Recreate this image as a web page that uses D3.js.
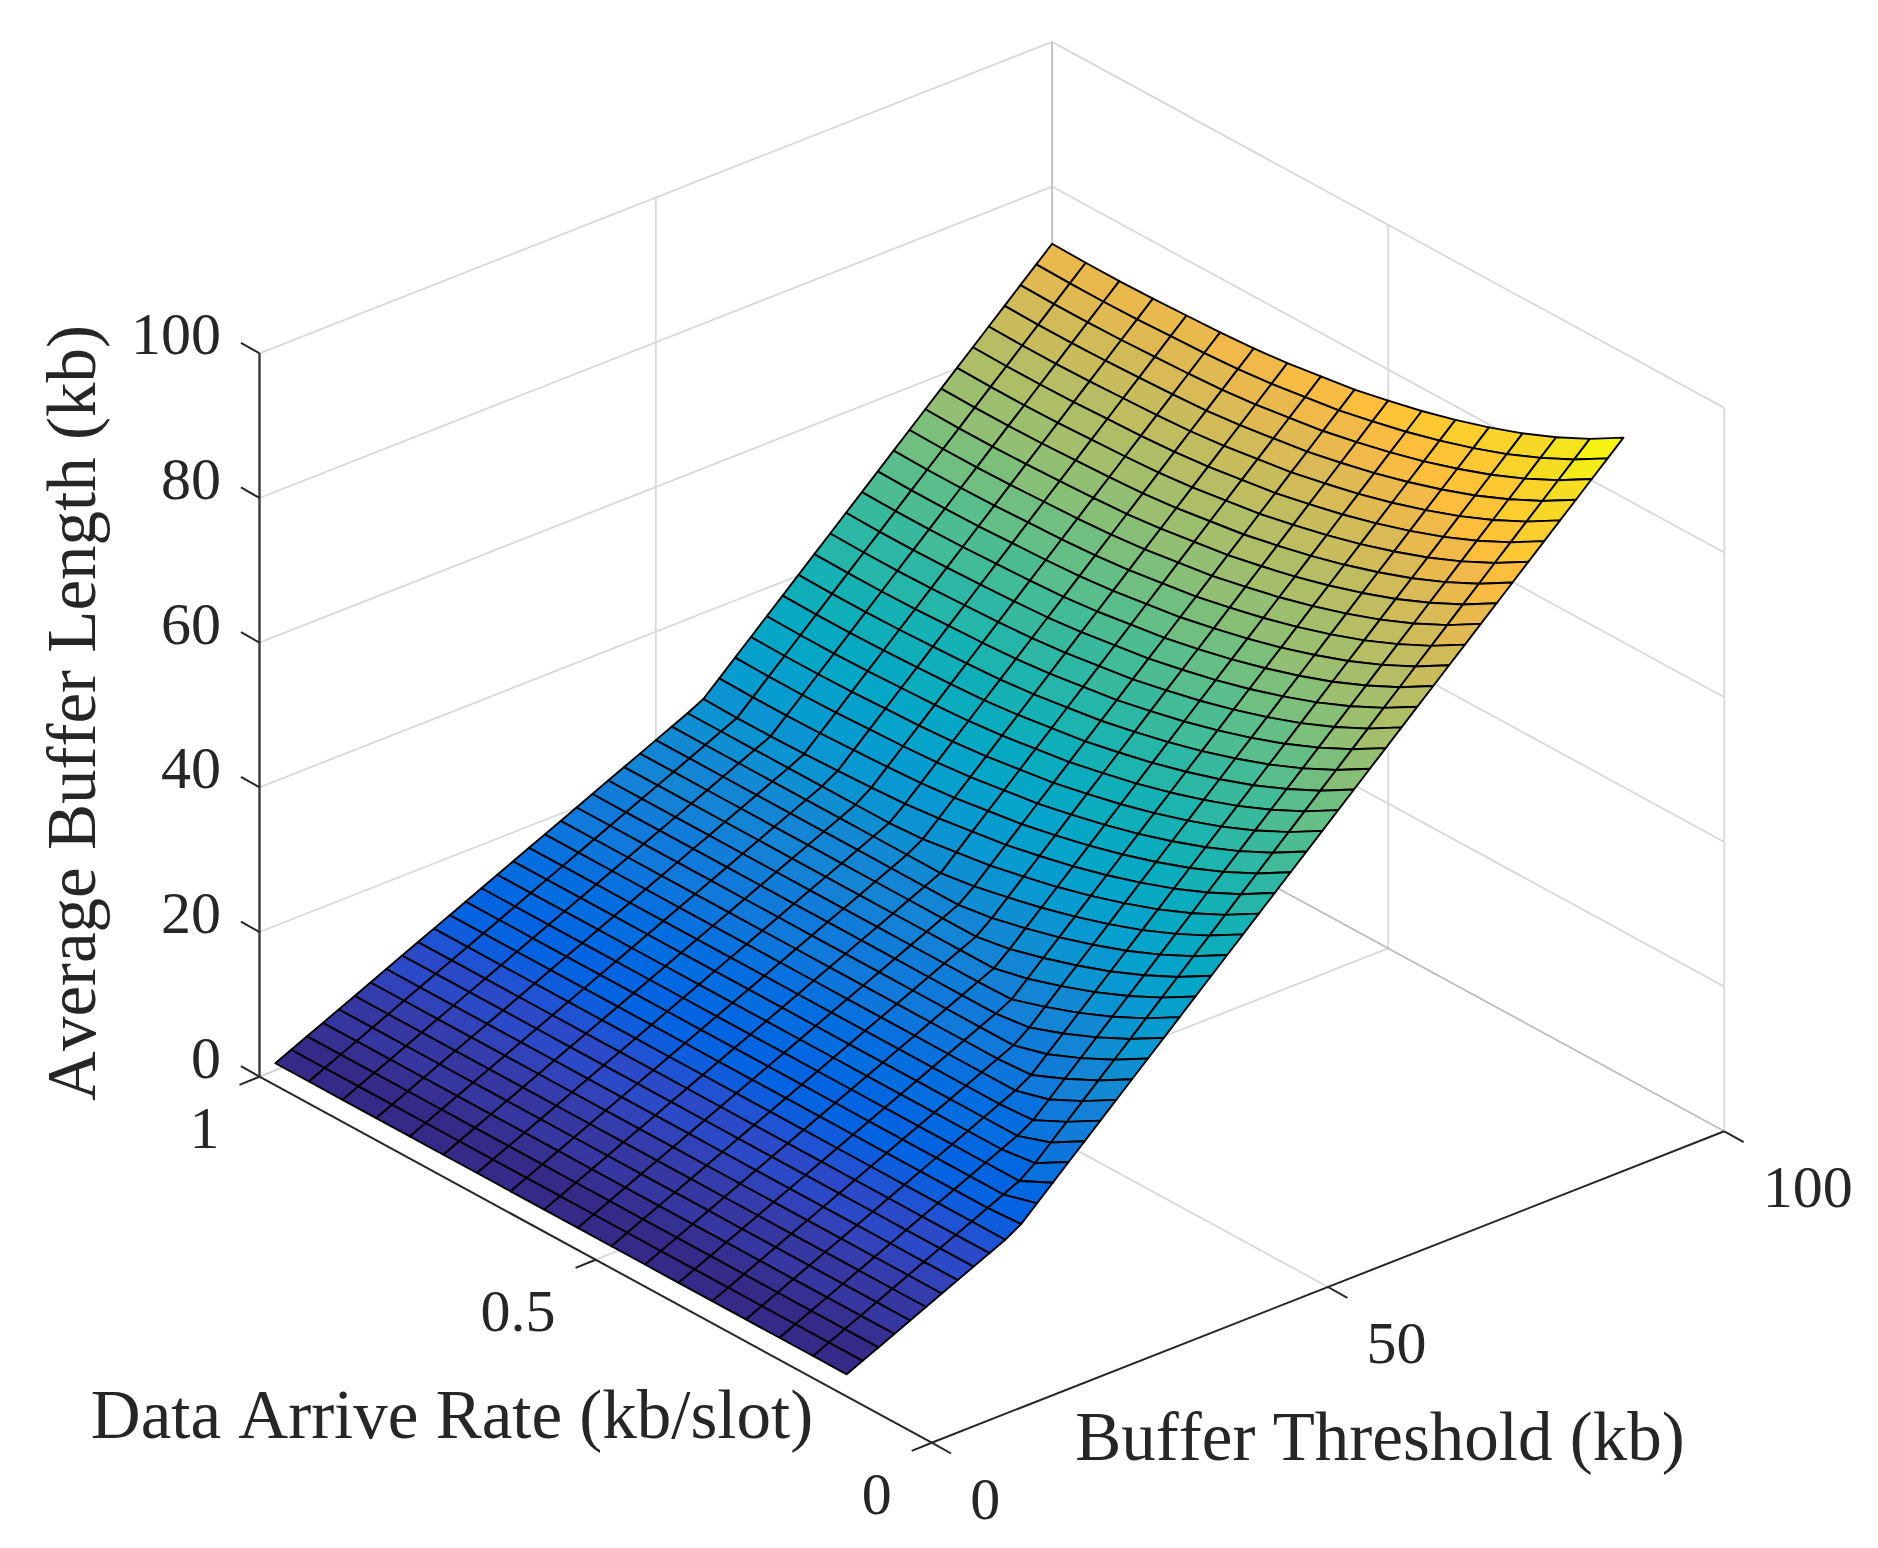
<!DOCTYPE html>
<html><head><meta charset="utf-8">
<script src="https://cdn.jsdelivr.net/npm/d3@7/dist/d3.min.js"></script>
<style>html,body{margin:0;padding:0;background:#fff}svg{display:block}text{font-family:"Liberation Serif","Times New Roman",serif;fill:#262626;font-kerning:none}</style>
</head><body><svg id="c" width="1878" height="1548"></svg>
<script>
const thresholds=[2,4,6,8,10,12,14,16,18,20,22,24,26,28,30,32,34,36,38,40,42,44,46,48,50,52,54,56,58,60,62,64,66,68,70,72,74,76,78,80,82,84,86,88,90,92,94,96,98,100];
const rates=[0.15,0.2,0.25,0.3,0.35,0.4,0.45,0.5,0.55,0.6,0.65,0.7,0.75,0.8,0.85,0.9,0.95,1];
const bufferLength=[
[1,2,3,4,5,6,7,8,9,10,11,12.3,14.3,16.3,18.3,20.3,22.3,24.3,26.3,28.3,30.3,32.3,34.3,36.3,38.3,40.3,42.3,44.3,46.3,48.3,50.3,52.3,54.3,56.3,58.3,60.3,62.3,64.3,66.3,68.3,70.3,72.3,74.3,76.3,78.3,80.3,82.3,84.3,86.3,88.3],
[1,2,3,4,5,6,7,8,9,10,11,12,13,14,15.6,17.6,19.6,21.6,23.6,25.6,27.6,29.6,31.6,33.6,35.6,37.6,39.6,41.6,43.6,45.6,47.6,49.6,51.6,53.6,55.6,57.6,59.6,61.6,63.6,65.6,67.6,69.6,71.6,73.6,75.6,77.6,79.6,81.6,83.6,85.6],
[1,2,3,4,5,6,7,8,9,10,11,12,13,14,15,16,17.3,19.3,21.3,23.3,25.3,27.3,29.3,31.3,33.3,35.3,37.3,39.3,41.3,43.3,45.3,47.3,49.3,51.3,53.3,55.3,57.3,59.3,61.3,63.3,65.3,67.3,69.3,71.3,73.3,75.3,77.3,79.3,81.3,83.3],
[1,2,3,4,5,6,7,8,9,10,11,12,13,14,15,16,17,18,19.3,21.3,23.3,25.3,27.3,29.3,31.3,33.3,35.3,37.3,39.3,41.3,43.3,45.3,47.3,49.3,51.3,53.3,55.3,57.3,59.3,61.3,63.3,65.3,67.3,69.3,71.3,73.3,75.3,77.3,79.3,81.3],
[1,2,3,4,5,6,7,8,9,10,11,12,13,14,15,16,17,18,19,20,21.6,23.6,25.6,27.6,29.6,31.6,33.6,35.6,37.6,39.6,41.6,43.6,45.6,47.6,49.6,51.6,53.6,55.6,57.6,59.6,61.6,63.6,65.6,67.6,69.6,71.6,73.6,75.6,77.6,79.6],
[1,2,3,4,5,6,7,8,9,10,11,12,13,14,15,16,17,18,19,20,21,22.1,24.1,26.1,28.1,30.1,32.1,34.1,36.1,38.1,40.1,42.1,44.1,46.1,48.1,50.1,52.1,54.1,56.1,58.1,60.1,62.1,64.1,66.1,68.1,70.1,72.1,74.1,76.1,78.1],
[1,2,3,4,5,6,7,8,9,10,11,12,13,14,15,16,17,18,19,20,21,22,23,24.8,26.8,28.8,30.8,32.8,34.8,36.8,38.8,40.8,42.8,44.8,46.8,48.8,50.8,52.8,54.8,56.8,58.8,60.8,62.8,64.8,66.8,68.8,70.8,72.8,74.8,76.8],
[1,2,3,4,5,6,7,8,9,10,11,12,13,14,15,16,17,18,19,20,21,22,23,24,25.7,27.7,29.7,31.7,33.7,35.7,37.7,39.7,41.7,43.7,45.7,47.7,49.7,51.7,53.7,55.7,57.7,59.7,61.7,63.7,65.7,67.7,69.7,71.7,73.7,75.7],
[1,2,3,4,5,6,7,8,9,10,11,12,13,14,15,16,17,18,19,20,21,22,23,24,25,26.7,28.7,30.7,32.7,34.7,36.7,38.7,40.7,42.7,44.7,46.7,48.7,50.7,52.7,54.7,56.7,58.7,60.7,62.7,64.7,66.7,68.7,70.7,72.7,74.7],
[1,2,3,4,5,6,7,8,9,10,11,12,13,14,15,16,17,18,19,20,21,22,23,24,25,26,28,30,32,34,36,38,40,42,44,46,48,50,52,54,56,58,60,62,64,66,68,70,72,74],
[1,2,3,4,5,6,7,8,9,10,11,12,13,14,15,16,17,18,19,20,21,22,23,24,25,26,27.3,29.3,31.3,33.3,35.3,37.3,39.3,41.3,43.3,45.3,47.3,49.3,51.3,53.3,55.3,57.3,59.3,61.3,63.3,65.3,67.3,69.3,71.3,73.3],
[1,2,3,4,5,6,7,8,9,10,11,12,13,14,15,16,17,18,19,20,21,22,23,24,25,26,27,28.8,30.8,32.8,34.8,36.8,38.8,40.8,42.8,44.8,46.8,48.8,50.8,52.8,54.8,56.8,58.8,60.8,62.8,64.8,66.8,68.8,70.8,72.8],
[1,2,3,4,5,6,7,8,9,10,11,12,13,14,15,16,17,18,19,20,21,22,23,24,25,26,27,28.5,30.5,32.5,34.5,36.5,38.5,40.5,42.5,44.5,46.5,48.5,50.5,52.5,54.5,56.5,58.5,60.5,62.5,64.5,66.5,68.5,70.5,72.5],
[1,2,3,4,5,6,7,8,9,10,11,12,13,14,15,16,17,18,19,20,21,22,23,24,25,26,27,28.3,30.3,32.3,34.3,36.3,38.3,40.3,42.3,44.3,46.3,48.3,50.3,52.3,54.3,56.3,58.3,60.3,62.3,64.3,66.3,68.3,70.3,72.3],
[1,2,3,4,5,6,7,8,9,10,11,12,13,14,15,16,17,18,19,20,21,22,23,24,25,26,27,28.1,30.1,32.1,34.1,36.1,38.1,40.1,42.1,44.1,46.1,48.1,50.1,52.1,54.1,56.1,58.1,60.1,62.1,64.1,66.1,68.1,70.1,72.1],
[1,2,3,4,5,6,7,8,9,10,11,12,13,14,15,16,17,18,19,20,21,22,23,24,25,26,27,28,30,32,34,36,38,40,42,44,46,48,50,52,54,56,58,60,62,64,66,68,70,72],
[1,2,3,4,5,6,7,8,9,10,11,12,13,14,15,16,17,18,19,20,21,22,23,24,25,26,27,28,30,32,34,36,38,40,42,44,46,48,50,52,54,56,58,60,62,64,66,68,70,72],
[1,2,3,4,5,6,7,8,9,10,11,12,13,14,15,16,17,18,19,20,21,22,23,24,25,26,27,28.1,30.1,32.1,34.1,36.1,38.1,40.1,42.1,44.1,46.1,48.1,50.1,52.1,54.1,56.1,58.1,60.1,62.1,64.1,66.1,68.1,70.1,72.1]
];
const parula=[[.2081,.1663,.5292],[.2116,.1898,.5777],[.2123,.2138,.627],[.2081,.2386,.6771],[.1959,.2645,.7279],[.1707,.2919,.7792],[.1253,.3242,.8303],[.0591,.3598,.8683],[.0117,.3875,.882],[.006,.4086,.8828],[.0165,.4266,.8786],[.0329,.443,.872],[.0498,.4586,.8641],[.0629,.4737,.8554],[.0723,.4887,.8467],[.0779,.504,.8384],[.0793,.52,.8312],[.0749,.5375,.8263],[.0641,.557,.824],[.0488,.5772,.8228],[.0343,.5966,.8199],[.0265,.6137,.8135],[.0239,.6287,.8038],[.0231,.6418,.7913],[.0228,.6535,.7768],[.0267,.6642,.7607],[.0384,.6743,.7436],[.059,.6838,.7254],[.0843,.6928,.7062],[.1133,.7015,.6859],[.1453,.7098,.6646],[.1801,.7177,.6424],[.2178,.725,.6193],[.2586,.7317,.5954],[.3022,.7376,.5712],[.3482,.7424,.5473],[.3953,.7459,.5244],[.442,.7481,.5033],[.4871,.7491,.484],[.53,.7491,.4661],[.5709,.7485,.4494],[.6099,.7473,.4337],[.6473,.7456,.4188],[.6834,.7435,.4044],[.7184,.7411,.3905],[.7525,.7384,.3768],[.7858,.7356,.3633],[.8185,.7327,.3498],[.8507,.7299,.336],[.8824,.7274,.3217],[.9139,.7258,.3063],[.945,.7261,.2886],[.9739,.7314,.2666],[.9938,.7455,.2403],[.999,.7653,.2164],[.9955,.7861,.1967],[.988,.8066,.1794],[.9789,.8271,.1633],[.9697,.8481,.1475],[.9626,.8705,.1309],[.9589,.8949,.1132],[.9598,.9218,.0948],[.9661,.9514,.0755],[.9763,.9831,.0538]];
const xTicks=[0,50,100], rateTicks=[0,0.5,1], zTicks=[0,20,40,60,80,100];
const xTitle="Buffer Threshold (kb)", rateTitle="Data Arrive Rate (kb/slot)", zTitle="Average Buffer Length (kb)";

// orthographic projection: each data axis maps to a screen vector
const origin=[931.7,1442.7];
const xV=d3.scaleLinear().domain([0,100]).range([0,1]);
const rV=d3.scaleLinear().domain([0,1]).range([0,1]);
const zV=d3.scaleLinear().domain([0,100]).range([0,723.4]);
const ax=[792.6,-311.4], ay=[-672.2,-366];
const P=(x,r,z)=>[origin[0]+xV(x)*ax[0]+rV(r)*ay[0], origin[1]+xV(x)*ax[1]+rV(r)*ay[1]-zV(z)];
const line=d3.line();
const svg=d3.select("#c");
const seg=(g,a,b,stroke,w)=>g.append("path").attr("d",line([a,b])).attr("fill","none").attr("stroke",stroke).attr("stroke-width",w);

// grid on the walls and floor
const grid=svg.append("g");
const G="#d9d9d9", GW=1.8;
zTicks.forEach(z=>{
  if(z===0) return;
  seg(grid,P(0,1,z),P(100,1,z),G,GW);
  seg(grid,P(100,1,z),P(100,0,z),G,GW);
});
xTicks.filter(x=>x>0&&x<100).forEach(x=>{
  seg(grid,P(x,1,0),P(x,1,100),G,GW);
  seg(grid,P(x,0,0),P(x,1,0),G,GW);
});
rateTicks.filter(r=>r>0&&r<1).forEach(r=>{
  seg(grid,P(100,r,0),P(100,r,100),G,GW);
  seg(grid,P(0,r,0),P(100,r,0),G,GW);
});
seg(grid,P(100,0,0),P(100,0,100),G,GW);
seg(grid,P(0,1,0),P(100,1,0),"#cfcfcf",GW);
seg(grid,P(100,0,0),P(100,1,0),"#bdbdbd",GW);
seg(grid,P(100,1,0),P(100,1,100),"#c0c0c0",GW);

// axes and ticks
const axes=svg.append("g");
const A="#262626";
seg(axes,P(0,0,0),P(100,0,0),A,2);
seg(axes,P(0,0,0),P(0,1,0),A,2);
seg(axes,P(0,1,0),P(0,1,100),"#3a3a3a",2.4);
const tickX=d=>[d[0]+19.4,d[1]+10.8], tickR=d=>[d[0]-20,d[1]+8.2], tickZ=d=>[d[0]-18.5,d[1]-10.5];
xTicks.forEach(x=>seg(axes,P(x,0,0),tickX(P(x,0,0)),A,2));
rateTicks.forEach(r=>seg(axes,P(0,r,0),tickR(P(0,r,0)),A,2));
zTicks.forEach(z=>seg(axes,P(0,1,z),tickZ(P(0,1,z)),A,2));

// surface, far facets first
const zFlat=bufferLength.flat();
const color=d3.scaleQuantize().domain(d3.extent(zFlat)).range(parula.map(c=>d3.rgb(c[0]*255,c[1]*255,c[2]*255).formatHex()));
const surf=svg.append("g");
for(let i=thresholds.length-2;i>=0;i--){
  for(let j=rates.length-2;j>=0;j--){
    const pts=[P(thresholds[i],rates[j],bufferLength[j][i]),P(thresholds[i+1],rates[j],bufferLength[j][i+1]),P(thresholds[i+1],rates[j+1],bufferLength[j+1][i+1]),P(thresholds[i],rates[j+1],bufferLength[j+1][i])];
    surf.append("path").attr("d",line(pts)+"Z").attr("fill",color(bufferLength[j][i])).attr("stroke","#000").attr("stroke-width",1.9).attr("stroke-linejoin","round");
  }
}

// tick labels and titles
const FS=60, T=svg.append("g").attr("font-size",FS);
zTicks.forEach(z=>{const p=P(0,1,z);T.append("text").attr("x",221).attr("y",p[1]+1).attr("text-anchor","end").text(z);});
rateTicks.forEach(r=>{const p=P(0,r,0);T.append("text").attr("x",p[0]-40).attr("y",p[1]+71).attr("text-anchor","end").text(r);});
xTicks.forEach(x=>{const p=P(x,0,0);T.append("text").attr("x",p[0]+38.5).attr("y",p[1]+76).text(x);});
const L=svg.append("g").attr("font-size",69).attr("text-anchor","middle");
L.append("text").attr("x",452).attr("y",1438).text(rateTitle);
L.append("text").attr("x",1380).attr("y",1460).text(xTitle);
L.append("text").attr("transform","translate(95,713) rotate(-90)").text(zTitle);
</script></body></html>
